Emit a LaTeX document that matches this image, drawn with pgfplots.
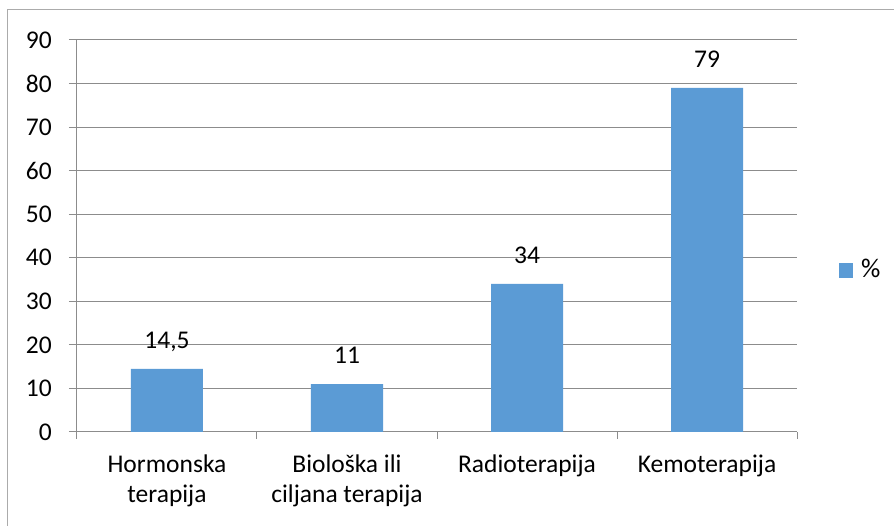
\documentclass[border=0pt]{standalone}
\usepackage{pgfplots}
\pgfplotsset{compat=1.18}
\usepackage{fontspec}
\setmainfont{Carlito}
\definecolor{barblue}{HTML}{5B9BD5}
\definecolor{gridgray}{HTML}{8C8C8C}
\definecolor{framegray}{HTML}{ABABAB}
\begin{document}
\fontsize{25.5}{29.5}\selectfont
\begin{tikzpicture}
\useasboundingbox (-77pt,-94pt) rectangle (817pt,432pt);
\draw[framegray, line width=1pt] (-69.5pt,-120pt) -- (-69.5pt,422pt) -- (840pt,422pt);
\begin{axis}[
  at={(0pt,0pt)}, anchor=south west,
  scale only axis, width=720pt, height=392pt,
  xmin=0.5, xmax=4.5, ymin=0, ymax=90,
  ytick={0,10,...,90},
  xtick={1,2,3,4},
  xticklabels={{Hormonska\\terapija},{Biološka ili\\ciljana terapija},{Radioterapija},{Kemoterapija}},
  minor xtick={0.5,1.5,2.5,3.5,4.5},
  axis x line*=bottom, axis y line*=left,
  axis line style={draw=gridgray, line width=1pt},
  ymajorgrids, grid style={draw=gridgray, line width=1pt},
  tick align=outside,
  major tick length=8pt, minor tick length=7pt,
  major x tick style={draw=none},
  minor x tick style={draw=gridgray, line width=1pt},
  ytick style={draw=gridgray, line width=1pt},
  /pgf/number format/assume math mode=true,
  /pgf/number format/use comma,
  yticklabel style={anchor=east, inner sep=0pt, xshift=-17pt},
  xticklabel style={align=center, anchor=north, inner sep=0pt, yshift=-15pt,
    font=\fontsize{25.5}{30}\selectfont},
  ybar, bar width=72pt,
  nodes near coords,
  every node near coord/.append style={anchor=base, inner sep=0pt, yshift=20.5pt, text=black},
  legend style={at={(1.0583,0.412)}, anchor=west, draw=none, fill=none, inner sep=0pt,
    nodes={inner sep=0pt}, /tikz/every odd column/.append style={column sep=8pt}},
  legend image code/.code={\fill[barblue] (0pt,-7.5pt) rectangle (14pt,7.5pt);},
]
\addplot[fill=barblue, draw=none] coordinates {(1,14.5) (2,11) (3,34) (4,79)};
\addlegendentry{\fontsize{27}{30}\selectfont\%}
\end{axis}
\end{tikzpicture}
\end{document}
